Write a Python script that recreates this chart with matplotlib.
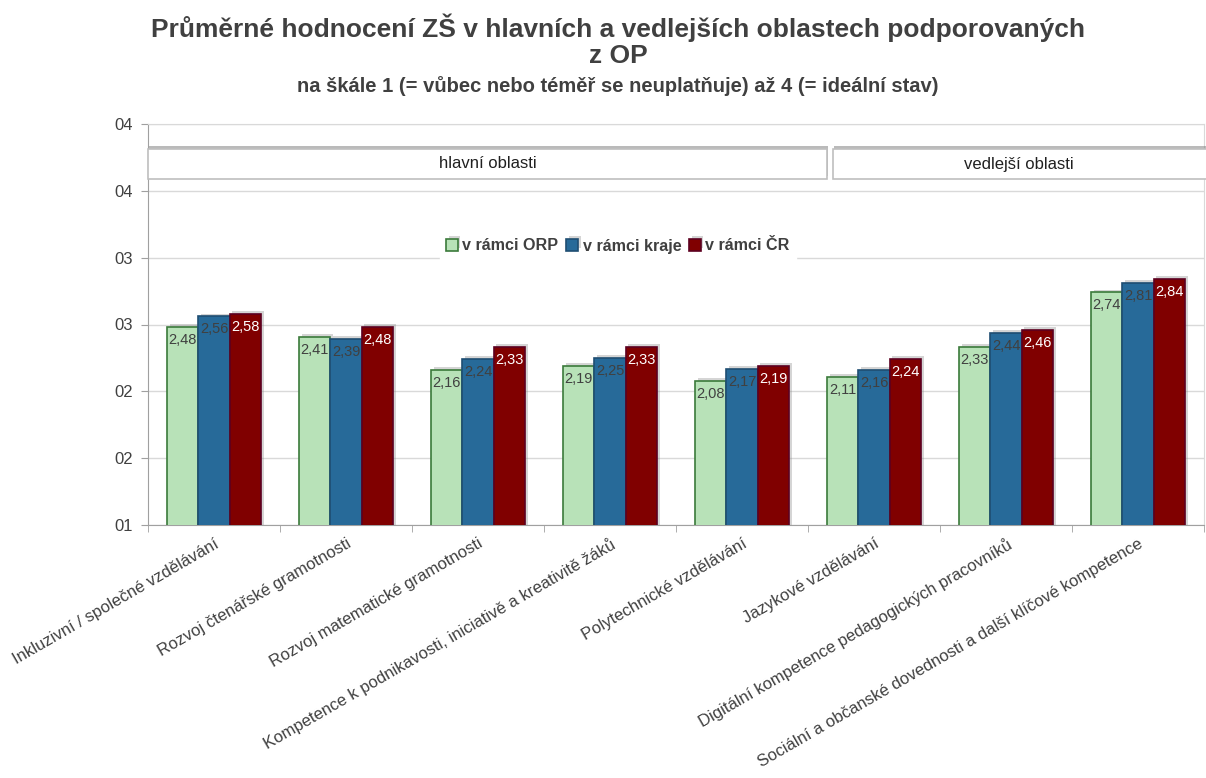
import numpy as np
import matplotlib
matplotlib.use("Agg")
import matplotlib.pyplot as plt
import matplotlib.patheffects as pe
from matplotlib.patches import Rectangle
from matplotlib.ticker import FuncFormatter, FixedLocator

plt.rcParams['font.family'] = ['Liberation Sans', 'DejaVu Sans']

# Data
categories = [
    "Inkluzivní / společné vzdělávání",
    "Rozvoj čtenářské gramotnosti",
    "Rozvoj matematické gramotnosti",
    "Kompetence k podnikavosti, iniciativě a kreativitě žáků",
    "Polytechnické vzdělávání",
    "Jazykové vzdělávání",
    "Digitální kompetence pedagogických pracovníků",
    "Sociální a občanské dovednosti a další klíčové kompetence",
]
orp = [2.48, 2.41, 2.16, 2.19, 2.08, 2.11, 2.33, 2.74]
kraj = [2.56, 2.39, 2.24, 2.25, 2.17, 2.16, 2.44, 2.81]
cr = [2.58, 2.48, 2.33, 2.33, 2.19, 2.24, 2.46, 2.84]
series_names = ["v rámci ORP", "v rámci kraje", "v rámci ČR"]
group_names = ["hlavní oblasti", "vedlejší oblasti"]

fig = plt.figure(figsize=(12.06, 7.78), dpi=100)
ax = fig.add_axes([148/1206, 253/778, 1056/1206, 401/778])

x = np.arange(len(categories))
w = 0.238
faces = ["#B8E2B8", "#276A99", "#800000"]
edges = ["#3B7A3B", "#1F4E72", "#5C0020"]
txtcol = ["#404040", "#404040", "white"]
shadow = [pe.SimplePatchShadow(offset=(2, 2), shadow_rgbFace="#888888", alpha=0.35), pe.Normal()]

for i, (vals, name) in enumerate(zip([orp, kraj, cr], series_names)):
    bars = ax.bar(x + (i - 1) * w, vals, w, bottom=0, color=faces[i],
                  edgecolor=edges[i], linewidth=1.2, label=name, zorder=3)
    for b in bars:
        b.set_path_effects(shadow)
    for xi, v in zip(x + (i - 1) * w, vals):
        ax.text(xi, v - 0.045, f"{v:.2f}".replace(".", ","), ha="center", va="top",
                fontsize=10.5, color=txtcol[i], zorder=5)

ax.set_xlim(-0.5, len(categories) - 0.5)
ax.set_ylim(1, 4)
ax.yaxis.set_major_locator(FixedLocator([1, 1.5, 2, 2.5, 3, 3.5, 4]))
ax.yaxis.set_major_formatter(FuncFormatter(lambda v, p: f"{int(np.floor(v + 0.5)):02d}"))
ax.grid(axis="y", color="#D9D9D9", linewidth=1, zorder=0)
ax.set_axisbelow(True)

ax.set_xticks(x)
ax.set_xticklabels(categories, rotation=30, ha="right", va="top",
                   rotation_mode="anchor", fontsize=12, color="#404040")
ax.tick_params(axis="x", length=0, pad=8)
ax.set_xticks(np.arange(-0.5, len(categories), 1), minor=True)
ax.tick_params(axis="x", which="minor", length=5, color="#A0A0A0")
ax.tick_params(axis="y", length=5, color="#A0A0A0", labelsize=12, labelcolor="#404040", pad=6)

for s in ["top", "right"]:
    ax.spines[s].set_color("#D9D9D9")
ax.spines["left"].set_color("#A0A0A0")
ax.spines["bottom"].set_color("#A0A0A0")

# group header boxes
box_shadow = [pe.SimplePatchShadow(offset=(1, 2), shadow_rgbFace="#777777", alpha=0.5), pe.Normal()]
trans = ax.transAxes
for (x0, x1), name in zip([(0.0, (827 - 148) / 1056), ((833 - 148) / 1056, 1.01)], group_names):
    y0, y1 = (525 - 179) / 401, (525 - 149) / 401
    r = Rectangle((x0, y0), x1 - x0, y1 - y0, transform=trans, facecolor="white",
                  edgecolor="#BFBFBF", linewidth=1.2, zorder=6, clip_on=False)
    r.set_path_effects(box_shadow)
    ax.add_patch(r)
    ax.text((x0 + min(x1, 1.0)) / 2, (y0 + y1) / 2, name, transform=trans, ha="center",
            va="center", fontsize=12, color="#202020", zorder=7)

leg = ax.legend(loc="center", bbox_to_anchor=((618 - 148) / 1056, (525 - 246) / 401), ncol=3,
                frameon=True, fancybox=False, edgecolor="white", framealpha=1,
                handlelength=0.7, handleheight=0.7, handletextpad=0.3, columnspacing=0.5,
                borderpad=0.4, prop={"weight": "bold", "size": 11.6})
for t in leg.get_texts():
    t.set_color("#404040")
leg.set_zorder(8)

fig.text(0.5125, 0.964, "Průměrné hodnocení ZŠ v hlavních a vedlejších oblastech podporovaných",
         ha="center", va="center", fontsize=19, weight="bold", color="#404040")
fig.text(0.5125, 0.928, "z OP", ha="center", va="center", fontsize=19, weight="bold", color="#404040")
fig.text(0.5125, 0.889, "na škále 1 (= vůbec nebo téměř se neuplatňuje) až 4 (= ideální stav)",
         ha="center", va="center", fontsize=14.5, weight="bold", color="#404040")

fig.savefig("out.png", dpi=100)
